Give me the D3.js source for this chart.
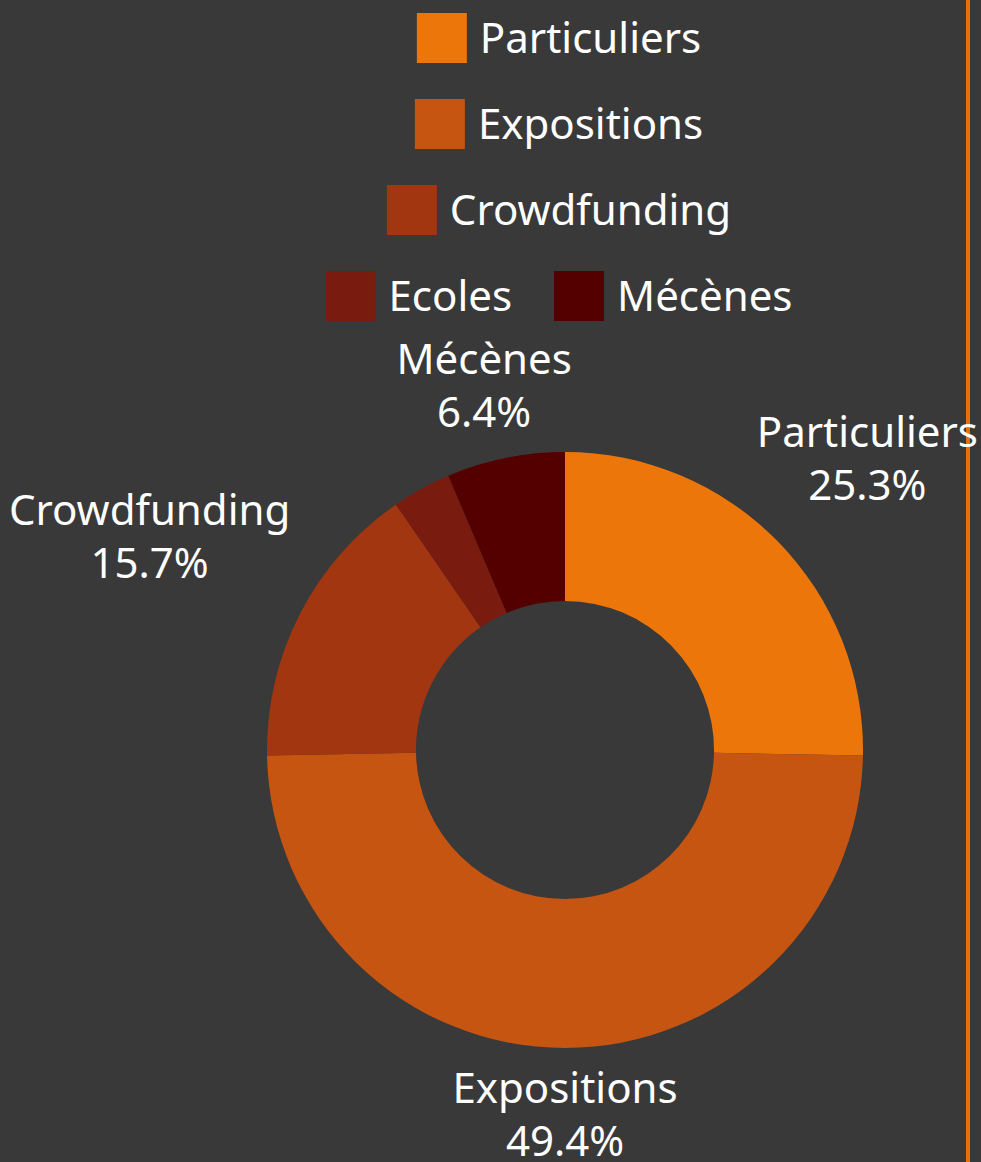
<!DOCTYPE html>
<html>
<head>
<meta charset="utf-8">
<script src="https://cdn.jsdelivr.net/npm/d3@7"></script>
<style>
  html, body { margin: 0; padding: 0; background: #393939; }
  svg { display: block; }
  text { font-family: "Noto Sans", "Open Sans", sans-serif; fill: #ffffff; }
</style>
</head>
<body>
<svg id="chart"></svg>
<script>
var WIDTH = 981,
    HEIGHT = 1162;

// data
var categories = ["Particuliers", "Expositions", "Crowdfunding", "Ecoles", "Mécènes"];
var values = [25.3, 49.4, 15.7, 3.2, 6.4];
var colors = ["#ec760a", "#c65512", "#a13610", "#7a1b10", "#550000"];
var labelled = ["Particuliers", "Expositions", "Crowdfunding", "Mécènes"];

var svg = d3.select("#chart").attr("width", WIDTH).attr("height", HEIGHT);

svg.append("rect").attr("width", WIDTH).attr("height", HEIGHT).attr("fill", "#393939");

// orange rule on the right edge
svg.append("line")
    .attr("x1", 968).attr("x2", 968)
    .attr("y1", 0).attr("y2", HEIGHT)
    .attr("stroke", "#e8700a").attr("stroke-width", 4);

var color = d3.scaleOrdinal().domain(categories).range(colors);

// legend, wrapped rows centred on the plot
var FONT = 42,
    SW = 50,
    ROW_H = 86,
    ITEM_GAP = 42,
    MAX_ROW = 520,
    LEG_CX = 559,
    LEG_Y0 = 38;

var legend = svg.append("g");
var items = categories.map(function (c) {
    var g = legend.append("g");
    g.append("rect").attr("width", SW).attr("height", SW)
        .attr("y", -SW / 2).attr("fill", color(c));
    var t = g.append("text").attr("x", SW + 13).attr("dy", "0.35em")
        .style("font-size", FONT + "px").text(c);
    return {g: g, w: SW + 13 + t.node().getComputedTextLength()};
});

var rows = [], cur = [], curW = 0;
items.forEach(function (it) {
    var add = cur.length ? ITEM_GAP + it.w : it.w;
    if (cur.length && curW + add > MAX_ROW) {
        rows.push({items: cur, w: curW});
        cur = [it];
        curW = it.w;
    } else {
        cur.push(it);
        curW += add;
    }
});
rows.push({items: cur, w: curW});

rows.forEach(function (row, ri) {
    var x = LEG_CX - row.w / 2;
    row.items.forEach(function (it) {
        it.g.attr("transform", "translate(" + x + "," + (LEG_Y0 + ri * ROW_H) + ")");
        x += it.w + ITEM_GAP;
    });
});

// donut
var CX = 565, CY = 750, R = 298, R_IN = 149;

var pie = d3.pie().sort(null).value(function (d) { return d.value; });
var data = categories.map(function (c, i) { return {name: c, value: values[i]}; });
var arcs = pie(data);
var arc = d3.arc().innerRadius(R_IN).outerRadius(R);

var chart = svg.append("g").attr("transform", "translate(" + CX + "," + CY + ")");

chart.selectAll("path")
    .data(arcs)
    .enter().append("path")
    .attr("d", arc)
    .attr("fill", function (d) { return color(d.data.name); });

// outside labels: pushed further out as the slice leans sideways
var total = d3.sum(values),
    LABEL_R = R + 15,
    LABEL_PUSH = 45,
    LINE_H = 53,
    CAP = 30;

arcs.forEach(function (d) {
    if (labelled.indexOf(d.data.name) < 0) { return; }
    var mid = (d.startAngle + d.endAngle) / 2,
        s = Math.sin(mid),
        c = Math.cos(mid),
        r = LABEL_R + LABEL_PUSH * Math.pow(Math.abs(s), 1.5),
        ax = CX + r * s,
        ay = CY - r * c;
    var t = svg.append("text")
        .attr("text-anchor", "middle")
        .style("font-size", FONT + "px");
    t.append("tspan").attr("x", 0).attr("dy", 0).text(d.data.name);
    t.append("tspan").attr("x", 0).attr("dy", LINE_H)
        .text(d3.format(".1f")(d.data.value / total * 100) + "%");
    var w = t.node().getBBox().width,
        cx = ax + s * w / 2,
        firstBase = c >= 0 ? ay - 12 - LINE_H : ay + 10 + CAP;
    cx = Math.min(cx, WIDTH - 3 - w / 2);
    cx = Math.max(cx, 9 + w / 2);
    t.selectAll("tspan").attr("x", cx);
    t.select("tspan").attr("y", firstBase);
});
</script>
</body>
</html>
